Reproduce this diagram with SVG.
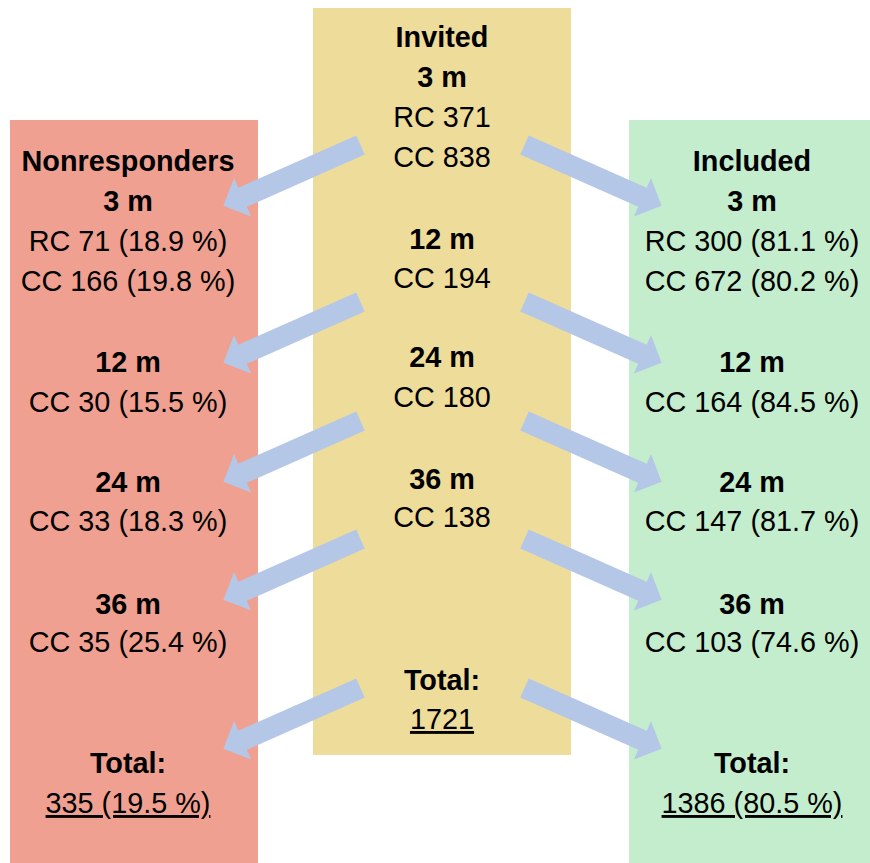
<svg xmlns="http://www.w3.org/2000/svg" xmlns:xlink="http://www.w3.org/1999/xlink" width="870" height="863" viewBox="0 0 870 863">
<style>
text{font-family:"Liberation Sans",Arial,sans-serif;font-size:28.8px;fill:#000;text-anchor:middle}
.b{font-weight:bold}
.u{text-decoration:underline}
.arrow{fill:#B4C7E7}
</style>
<defs>
<polygon id="arr" points="0,-10.5 129,-10.5 129,-21 150,0 129,21 129,10.5 0,10.5"/>
</defs>
<rect x="0" y="0" width="870" height="863" fill="#fff"/>
<g id="nonresponders">
<rect x="10" y="120" width="248" height="743" fill="#EFA090"/>
<text x="128" y="171" class="b">Nonresponders</text>
<text x="128" y="211" class="b">3 m</text>
<text x="128" y="251">RC 71 (18.9 %)</text>
<text x="128" y="291">CC 166 (19.8 %)</text>
<text x="128" y="372" class="b">12 m</text>
<text x="128" y="412">CC 30 (15.5 %)</text>
<text x="128" y="492" class="b">24 m</text>
<text x="128" y="531">CC 33 (18.3 %)</text>
<text x="128" y="614" class="b">36 m</text>
<text x="128" y="652">CC 35 (25.4 %)</text>
<text x="128" y="773" class="b">Total:</text>
<text x="128" y="813" class="u">335 (19.5 %)</text>
</g>
<g id="invited">
<rect x="313" y="8" width="258" height="747" fill="#EEDC9A"/>
<text x="442" y="47" class="b">Invited</text>
<text x="442" y="87" class="b">3 m</text>
<text x="442" y="127">RC 371</text>
<text x="442" y="167">CC 838</text>
<text x="442" y="249" class="b">12 m</text>
<text x="442" y="288">CC 194</text>
<text x="442" y="367" class="b">24 m</text>
<text x="442" y="407">CC 180</text>
<text x="442" y="489" class="b">36 m</text>
<text x="442" y="527">CC 138</text>
<text x="442" y="690" class="b">Total:</text>
<text x="442" y="729" class="u">1721</text>
</g>
<g id="included">
<rect x="629" y="120" width="241" height="743" fill="#C4EDCD"/>
<text x="752" y="171" class="b">Included</text>
<text x="752" y="211" class="b">3 m</text>
<text x="752" y="251">RC 300 (81.1 %)</text>
<text x="752" y="291">CC 672 (80.2 %)</text>
<text x="752" y="372" class="b">12 m</text>
<text x="752" y="412">CC 164 (84.5 %)</text>
<text x="752" y="492" class="b">24 m</text>
<text x="752" y="531">CC 147 (81.7 %)</text>
<text x="752" y="614" class="b">36 m</text>
<text x="752" y="652">CC 103 (74.6 %)</text>
<text x="752" y="773" class="b">Total:</text>
<text x="752" y="813" class="u">1386 (80.5 %)</text>
</g>
<g id="connectors" class="arrow">
<use xlink:href="#arr" transform="translate(360.5,145) rotate(156.1)"/>
<use xlink:href="#arr" transform="translate(360.5,302) rotate(156.1)"/>
<use xlink:href="#arr" transform="translate(360.5,421) rotate(156.1)"/>
<use xlink:href="#arr" transform="translate(360.5,539) rotate(156.1)"/>
<use xlink:href="#arr" transform="translate(360.5,688) rotate(156.1)"/>
<use xlink:href="#arr" transform="translate(524.5,145) rotate(23.9)"/>
<use xlink:href="#arr" transform="translate(524.5,302) rotate(23.9)"/>
<use xlink:href="#arr" transform="translate(524.5,421) rotate(23.9)"/>
<use xlink:href="#arr" transform="translate(524.5,539) rotate(23.9)"/>
<use xlink:href="#arr" transform="translate(524.5,688) rotate(23.9)"/>
</g>
</svg>
